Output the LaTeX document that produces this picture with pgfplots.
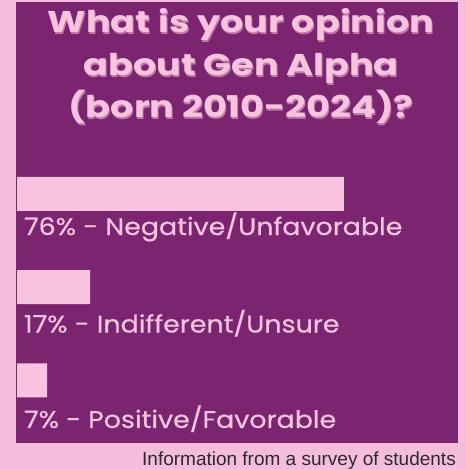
\documentclass[border=0pt]{standalone}
\usepackage{pgfplots}
\pgfplotsset{compat=1.18}
\usepackage{fontspec}
\setmainfont{Liberation Sans}
\newfontfamily\titlefont[FakeStretch=1.22]{Poppins}
\newfontfamily\labelfont[FakeStretch=1.12, FakeBold=0.6]{Poppins}
\definecolor{bgpink}{HTML}{F5BDDC}
\definecolor{panel}{HTML}{7B2470}
\definecolor{barpink}{HTML}{F7C3DF}
\definecolor{shade}{HTML}{C27BA8}
\definecolor{foot}{HTML}{2B2B2B}

\begin{document}
\begin{tikzpicture}
  % page and purple panel, 1pt = 1px of the reference
  \fill[bgpink] (0,0) rectangle (466pt,469pt);
  \fill[panel] (16pt,26pt) rectangle (458pt,467pt);

  % title with a darker pink shadow
  \foreach \txt/\yy in {{What is your opinion}/436, {about Gen Alpha}/393, {(born 2010-2024)?}/351}{
    \node[anchor=base, text=shade, font=\titlefont\fontsize{30}{31}\selectfont\bfseries]
      at (242pt,\yy pt-1.3pt) {\txt};
    \node[anchor=base, text=barpink, font=\titlefont\fontsize{30}{31}\selectfont\bfseries]
      at (241pt,\yy pt) {\txt};
  }

  \begin{axis}[
    at={(17pt,28pt)}, anchor=south west,
    scale only axis, width=441pt, height=293.6pt,
    hide axis,
    xbar, bar width=34pt,
    xmin=0, xmax=102.5,
    ymin=0.35, ymax=3.5,
    clip=false,
  ]
    \addplot[fill=barpink, draw=none] coordinates {(76,3) (17,2) (7,1)};
    \node[anchor=base west, text=barpink, font=\labelfont\fontsize{24}{25}\selectfont]
      at (axis cs:0.8,2.56) {76\% - Negative/Unfavorable};
    \node[anchor=base west, text=barpink, font=\labelfont\fontsize{24}{25}\selectfont]
      at (axis cs:0.8,1.514) {17\% - Indifferent/Unsure};
    \node[anchor=base west, text=barpink, font=\labelfont\fontsize{24}{25}\selectfont]
      at (axis cs:0.8,0.49) {7\% - Positive/Favorable};
  \end{axis}

  \node[anchor=base east, inner sep=0pt, text=foot, font=\fontsize{19}{21}\selectfont]
    at (456pt,4pt) {Information from a survey of students};
\end{tikzpicture}
\end{document}
